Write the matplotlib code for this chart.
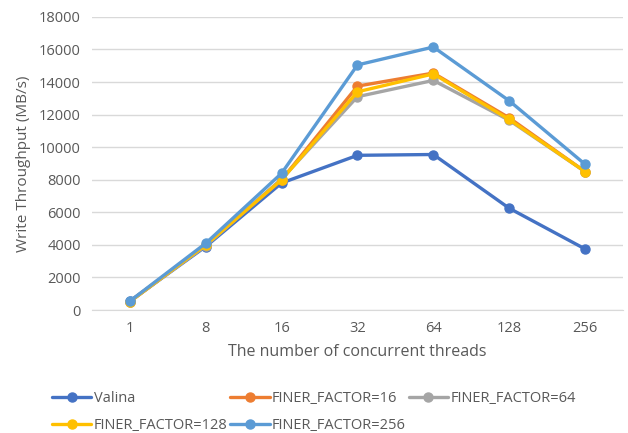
import matplotlib
matplotlib.use("Agg")
import matplotlib.pyplot as plt

threads = ["1", "8", "16", "32", "64", "128", "256"]
valina = [550, 3900, 7800, 9500, 9550, 6250, 3750]
ff16 = [520, 4000, 8000, 13750, 14550, 11800, 8500]
ff64 = [520, 3950, 8050, 13100, 14100, 11650, 8500]
ff128 = [520, 4000, 8000, 13400, 14500, 11700, 8500]
ff256 = [550, 4100, 8400, 15050, 16150, 12850, 8950]

series = [
    ("Valina", valina, "#4472C4"),
    ("FINER_FACTOR=16", ff16, "#ED7D31"),
    ("FINER_FACTOR=64", ff64, "#A5A5A5"),
    ("FINER_FACTOR=128", ff128, "#FFC000"),
    ("FINER_FACTOR=256", ff256, "#5B9BD5"),
]

plt.rcParams["font.family"] = ["Open Sans", "DejaVu Sans"]
text_c = "#595959"

fig = plt.figure(figsize=(6.28, 4.33), dpi=100)
ax = fig.add_axes([0.1465, 0.284, 0.8455, 0.677])

x = list(range(len(threads)))
lines = []
for name, vals, col in series:
    ln, = ax.plot(x, vals, color=col, lw=2.4, marker="o", ms=6.5, label=name,
                  solid_capstyle="round")
    lines.append(ln)

ax.set_xlim(-0.5, len(threads) - 0.5)
ax.set_ylim(0, 18000)
ax.set_yticks(range(0, 18001, 2000))
ax.set_xticks(x)
ax.set_xticklabels(threads)
ax.grid(axis="y", color="#D9D9D9", lw=1)
ax.set_axisbelow(True)
for s in ["top", "right", "left"]:
    ax.spines[s].set_visible(False)
ax.spines["bottom"].set_color("#D9D9D9")
ax.tick_params(length=0, colors=text_c, labelsize=10.5, pad=8)

ax.set_xlabel("The number of concurrent threads", color=text_c, fontsize=11.5, labelpad=6)
ax.set_ylabel("Write Throughput (MB/s)", color=text_c, fontsize=11, labelpad=6)

# legend fills column-wise; reorder so rows read like the original
order = [0, 3, 1, 4, 2]
leg = fig.legend([lines[i] for i in order], [series[i][0] for i in order],
                 loc="lower left", bbox_to_anchor=(0.062, -0.03), ncol=3,
                 frameon=False, fontsize=10.5, handlelength=2.7,
                 columnspacing=0.2, handletextpad=0.15, labelspacing=0.8)
for t in leg.get_texts():
    t.set_color(text_c)

fig.savefig("out.png", dpi=100)
